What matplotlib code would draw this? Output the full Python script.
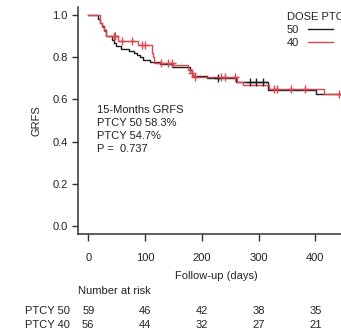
import numpy as np
import matplotlib.pyplot as plt
from matplotlib.transforms import blended_transform_factory

plt.rcParams['font.family'] = ['Liberation Sans', 'DejaVu Sans']
plt.rcParams['font.size'] = 8

# ==========================================
# dados
# ==========================================
# PTCY 50 (preto)
t50 = [0, 18, 21, 24, 28, 32, 42, 46, 49, 58, 71, 80, 86, 91, 97, 109,
       126, 147, 179, 182, 185, 209, 261, 316, 401, 452]
s50 = [1.0, 0.983, 0.966, 0.949, 0.932, 0.90, 0.885, 0.87, 0.855, 0.84,
       0.83, 0.82, 0.81, 0.80, 0.79, 0.78, 0.77, 0.755, 0.74, 0.725, 0.71,
       0.70, 0.683, 0.647, 0.627, 0.627]
cens50 = [229, 284, 296, 308]

# PTCY 40 (vermelho)
t40 = [0, 20, 24, 28, 32, 53, 88, 112, 114, 116, 150, 175, 180, 185,
       262, 272, 318, 416, 452]
s40 = [1.0, 0.964, 0.946, 0.928, 0.90, 0.877, 0.858, 0.82, 0.80, 0.775,
       0.762, 0.74, 0.725, 0.707, 0.685, 0.668, 0.65, 0.628, 0.628]
cens40 = [45, 47, 59, 77, 94, 100, 129, 140, 147, 183, 188, 234, 240, 258,
          328, 332, 357, 381, 442]

risk_times = [0, 100, 200, 300, 400]
risk50 = [59, 46, 42, 38, 35]
risk40 = [56, 44, 32, 27, 21]

nota = ["15-Months GRFS", "PTCY 50 58.3%", "PTCY 54.7%", "P =  0.737"]

COR50 = "#1e1e1e"
COR40 = "#d9474f"
TXT = "#222222"


def valor_em(tempos, surv, t):
    idx = np.searchsorted(tempos, t, side='right') - 1
    return np.asarray(surv)[idx]


# ==========================================
# figura
# ==========================================
fig = plt.figure(figsize=(3.41, 3.35), dpi=100)
W, H = 341, 335
ax = fig.add_axes([78 / W, (H - 234) / H, (354 - 78) / W, (234 - 7) / H])

ax.step(t50, s50, where='post', color=COR50, lw=1.0, label="50")
ax.step(t40, s40, where='post', color=COR40, lw=1.0, label="40")
ax.plot(cens50, valor_em(t50, s50, cens50), ls='none', marker='+',
        ms=6, mew=1.0, color=COR50)
ax.plot(cens40, valor_em(t40, s40, cens40), ls='none', marker='+',
        ms=6, mew=1.0, color=COR40)

ax.set_xlim(-18, 468)
ax.set_ylim(-0.04, 1.04)
ax.set_xticks(risk_times)
ax.set_yticks([0.0, 0.2, 0.4, 0.6, 0.8, 1.0])
ax.set_yticklabels(["0.0", "0.2", "0.4", "0.6", "0.8", "1.0"])

for lado in ['top', 'right']:
    ax.spines[lado].set_visible(False)
for lado in ['left', 'bottom']:
    ax.spines[lado].set_linewidth(1.1)
    ax.spines[lado].set_color("#333333")

ax.tick_params(axis='x', length=5, width=1, pad=9, colors="#333333",
               labelcolor=TXT)
ax.tick_params(axis='y', length=4.5, width=1, pad=3, colors="#333333",
               labelcolor=TXT)

ax.set_xlabel("Follow-up (days)", color=TXT)
ax.xaxis.set_label_coords(0.5, -0.163)
ax.set_ylabel("GRFS", color=TXT)
ax.yaxis.set_label_coords(-0.134, 0.5)

# texto com resultado
for i, linha in enumerate(nota):
    ax.text(15, 0.549 - i * 0.061, linha, ha='left', va='center',
            color=TXT)

# legenda estilo R (texto antes da linha)
leg = ax.legend(title="DOSE PTCY", loc='upper left',
                bbox_to_anchor=(0.757, 0.98), frameon=False,
                markerfirst=False, borderpad=0, borderaxespad=0,
                handlelength=2.2, handletextpad=0.8, labelspacing=0.3,
                alignment='left')
leg.get_title().set_color(TXT)
for t in leg.get_texts():
    t.set_color(TXT)

# tabela de número em risco
tr = blended_transform_factory(ax.transData, fig.transFigure)
fig.text(78 / W, 1 - 291 / H, "Number at risk", ha='left', va='center',
         color=TXT)
for nome, valores, ypx in [("PTCY 50", risk50, 311.5), ("PTCY 40", risk40, 325.5)]:
    fig.text(25 / W, 1 - ypx / H, nome, ha='left', va='center', color=TXT)
    for t, n in zip(risk_times, valores):
        ax.text(t, 1 - ypx / H, str(n), transform=tr, ha='center',
                va='center', color=TXT, clip_on=False)

fig.savefig("out.png", dpi=100)
